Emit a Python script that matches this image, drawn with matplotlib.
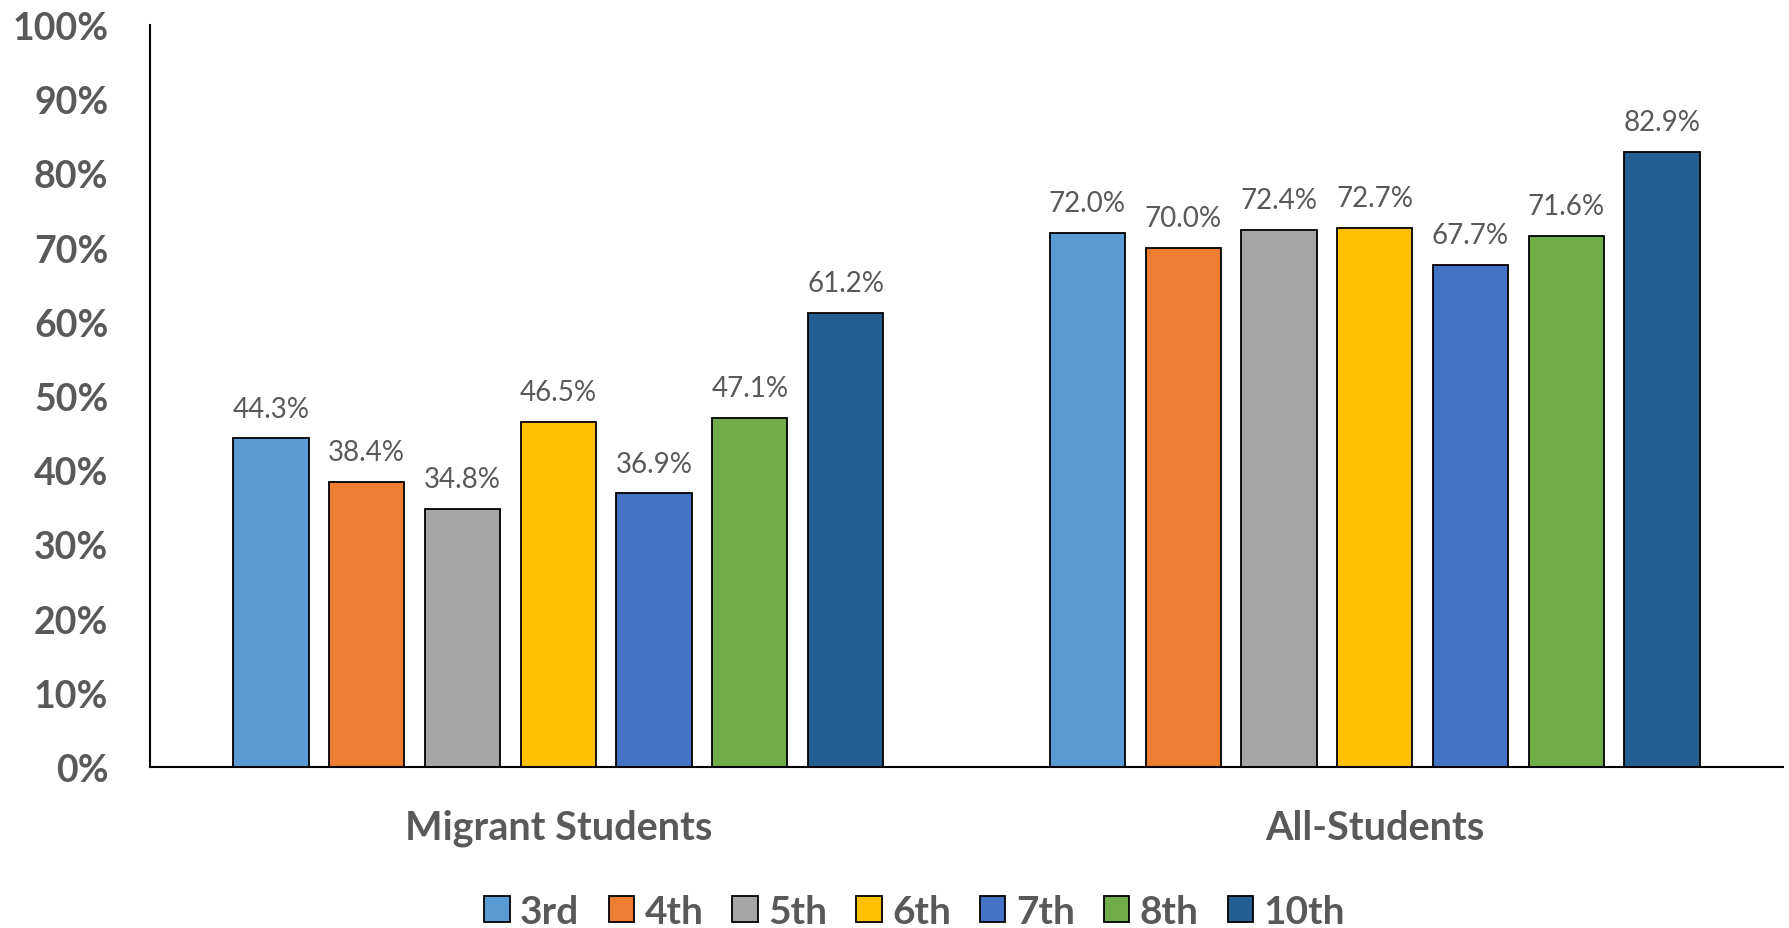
import matplotlib.pyplot as plt
import numpy as np

plt.rcParams['font.family'] = ['Lato', 'DejaVu Sans']

groups = ['Migrant Students', 'All-Students']
grades = ['3rd', '4th', '5th', '6th', '7th', '8th', '10th']
migrant = [44.3, 38.4, 34.8, 46.5, 36.9, 47.1, 61.2]
all_students = [72.0, 70.0, 72.4, 72.7, 67.7, 71.6, 82.9]
colors = ['#5B9BD5', '#ED7D31', '#A5A5A5', '#FFC000', '#4472C4', '#70AD47', '#255E91']

txt = '#595959'
fig = plt.figure(figsize=(17.9, 9.29), dpi=100)
ax = fig.add_axes([0.0838, 0.1733, 0.9123, 0.7987])

x = np.arange(len(groups))
pitch = 0.1173
width = 0.0922
for i, g in enumerate(grades):
    vals = [migrant[i], all_students[i]]
    pos = x + (i - (len(grades) - 1) / 2) * pitch
    bars = ax.bar(pos, vals, width, color=colors[i], edgecolor='black',
                  linewidth=1.3, label=g, zorder=2)
    for b, v in zip(bars, vals):
        ax.annotate(f'{v:.1f}%', (b.get_x() + b.get_width() / 2, v),
                    xytext=(0, 12), textcoords='offset points',
                    ha='center', va='bottom', fontsize=20, color=txt)

ax.set_xlim(-0.5, 1.5)
ax.set_ylim(0, 100)
ax.set_yticks(np.arange(0, 101, 10))
ax.set_yticklabels([f'{v}%' for v in range(0, 101, 10)])
ax.set_xticks(x)
ax.set_xticklabels(groups)
ax.tick_params(axis='y', length=0, pad=30, labelsize=27, labelcolor=txt)
ax.tick_params(axis='x', length=0, pad=30, labelsize=28.5, labelcolor=txt)
for lab in ax.get_xticklabels() + ax.get_yticklabels():
    lab.set_fontweight('bold')

for s in ['top', 'right']:
    ax.spines[s].set_visible(False)
ax.spines['left'].set_linewidth(1.5)
ax.spines['bottom'].set_linewidth(1.5)

leg = fig.legend(loc='center', bbox_to_anchor=(0.511, 0.018), ncol=7, frameon=False,
                 prop={'size': 28, 'weight': 'bold'}, handlelength=0.65,
                 handleheight=0.65, handletextpad=0.27, columnspacing=0.75,
                 borderaxespad=0)
for t in leg.get_texts():
    t.set_color(txt)

fig.savefig('out.png', dpi=100)
